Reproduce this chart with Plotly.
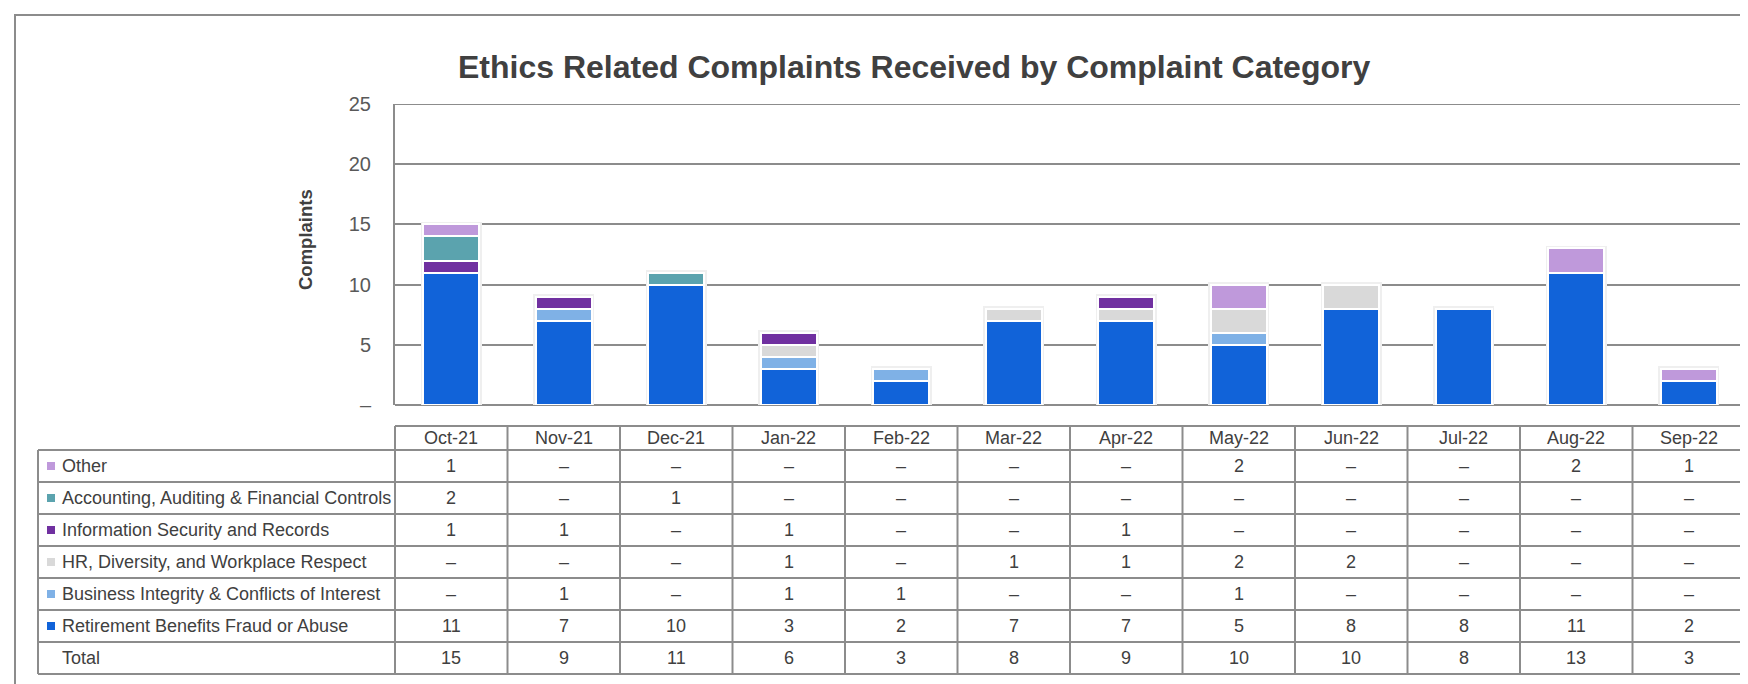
import plotly.graph_objects as go

months = ["Oct-21", "Nov-21", "Dec-21", "Jan-22", "Feb-22", "Mar-22",
          "Apr-22", "May-22", "Jun-22", "Jul-22", "Aug-22", "Sep-22"]

retirement = [11, 7, 10, 3, 2, 7, 7, 5, 8, 8, 11, 2]
business = [0, 1, 0, 1, 1, 0, 0, 1, 0, 0, 0, 0]
hr = [0, 0, 0, 1, 0, 1, 1, 2, 2, 0, 0, 0]
infosec = [1, 1, 0, 1, 0, 0, 1, 0, 0, 0, 0, 0]
accounting = [2, 0, 1, 0, 0, 0, 0, 0, 0, 0, 0, 0]
other = [1, 0, 0, 0, 0, 0, 0, 2, 0, 0, 2, 1]
totals = [15, 9, 11, 6, 3, 8, 9, 10, 10, 8, 13, 3]

series_names = ["Retirement Benefits Fraud or Abuse",
                "Business Integrity & Conflicts of Interest",
                "HR, Diversity, and Workplace Respect",
                "Information Security and Records",
                "Accounting, Auditing & Financial Controls",
                "Other"]
series_values = [retirement, business, hr, infosec, accounting, other]
series_colors = ["#1163D9", "#7FB1E6", "#D9D9D9", "#7030A0", "#5BA3AE", "#BF99DB"]

y_ticks = [0, 5, 10, 15, 20, 25]
y_ticktext = ["–", "5", "10", "15", "20", "25"]

W, H = 1748, 684
L, R, T, B = 387, 1737, 96, 397
COLW = (R - L) / len(months)

def px(x):
    return (x - L) / (R - L)

def py(y):
    return (B - y) / (B - T)

NARROW = "Liberation Sans Narrow, Arial Narrow, Liberation Sans, Arial, sans-serif"
TXT = "#404040"
GRID = "#8C8C8C"
TFONT = 18

fig = go.Figure()
# soft shadow behind the stacked bars
fig.add_trace(go.Bar(
    x=months, y=totals, width=0.5, showlegend=False, hoverinfo="skip",
    marker=dict(color="#EFEFEF", line=dict(color="#EFEFEF", width=5)),
    xaxis="x", yaxis="y",
))
for name, vals, col in zip(series_names, series_values, series_colors):
    fig.add_trace(go.Bar(
        x=months, y=[v if v else None for v in vals], name=name,
        marker=dict(color=col, line=dict(color="white", width=2)),
        width=0.5, showlegend=False, xaxis="x2", yaxis="y2",
    ))

shapes = []
ann = []

# outer frame
shapes.append(dict(type="rect", xref="paper", yref="paper",
                   x0=px(7), x1=px(1780), y0=py(7), y1=py(720),
                   line=dict(color="#8C8C8C", width=2), fillcolor="rgba(0,0,0,0)", layer="below"))
# top gridline at 25
shapes.append(dict(type="line", xref="paper", yref="y", x0=0, x1=1, y0=25, y1=25,
                   line=dict(color=GRID, width=2), layer="below"))

# table grid
TBL_LEFT = 30
HDR_TOP = 418
ROW0 = 442
ROWH = 32
nrows = 7
bottom = ROW0 + ROWH * nrows
line_style = dict(color=GRID, width=2)
shapes.append(dict(type="line", xref="paper", yref="paper", x0=px(L), x1=px(R),
                   y0=py(HDR_TOP), y1=py(HDR_TOP), line=line_style))
for i in range(nrows + 1):
    yy = ROW0 + ROWH * i
    shapes.append(dict(type="line", xref="paper", yref="paper", x0=px(TBL_LEFT), x1=px(R),
                       y0=py(yy), y1=py(yy), line=line_style))
shapes.append(dict(type="line", xref="paper", yref="paper", x0=px(TBL_LEFT), x1=px(TBL_LEFT),
                   y0=py(ROW0), y1=py(bottom), line=line_style))
for k in range(len(months) + 1):
    xx = L + COLW * k
    shapes.append(dict(type="line", xref="paper", yref="paper", x0=px(xx), x1=px(xx),
                       y0=py(HDR_TOP), y1=py(bottom), line=line_style))

# month headers
for k, m in enumerate(months):
    ann.append(dict(x=px(L + COLW * (k + 0.5)), y=py((HDR_TOP + ROW0) / 2), xref="paper", yref="paper",
                    text=m, showarrow=False, xanchor="center", yanchor="middle",
                    font=dict(family=NARROW, size=TFONT, color=TXT)))

# rows (top to bottom: reversed series, then total)
rows = list(zip(series_names[::-1], series_values[::-1], series_colors[::-1]))
rows.append(("Total", totals, None))
for i, (name, vals, col) in enumerate(rows):
    cy = ROW0 + ROWH * i + ROWH / 2
    if col:
        shapes.append(dict(type="rect", xref="paper", yref="paper",
                           x0=px(39), x1=px(47), y0=py(cy - 4), y1=py(cy + 4),
                           fillcolor=col, line=dict(width=0)))
    ann.append(dict(x=px(52), y=py(cy), xref="paper", yref="paper", text=name,
                    showarrow=False, xanchor="left", yanchor="middle",
                    font=dict(family=NARROW, size=TFONT, color=TXT)))
    for k, v in enumerate(vals):
        ann.append(dict(x=px(L + COLW * (k + 0.5)), y=py(cy), xref="paper", yref="paper",
                        text=str(v) if v else "–", showarrow=False, xanchor="center", yanchor="middle",
                        font=dict(family=NARROW, size=TFONT, color=TXT)))

# title
ann.append(dict(x=px(906), y=py(59), xref="paper", yref="paper",
                text="<b>Ethics Related Complaints Received by Complaint Category</b>",
                showarrow=False, xanchor="center", yanchor="middle",
                font=dict(family=NARROW, size=32, color=TXT)))
# y axis title
ann.append(dict(x=px(297), y=py(232), xref="paper", yref="paper",
                text="<b>Complaints</b>", textangle=-90,
                showarrow=False, xanchor="center", yanchor="middle",
                font=dict(family="Liberation Sans, Arial, sans-serif", size=18.5, color=TXT)))

xr = [-0.5, len(months) - 0.5]
fig.update_layout(
    width=W, height=H,
    margin=dict(l=L, r=W - R, t=T, b=H - B, pad=0),
    barmode="stack",
    plot_bgcolor="white", paper_bgcolor="white",
    shapes=shapes, annotations=ann,
    xaxis=dict(range=xr, showticklabels=False, showgrid=False,
               zeroline=False, showline=False, fixedrange=True),
    yaxis=dict(range=[0, 25], tickvals=y_ticks, ticktext=y_ticktext, showgrid=True,
               gridcolor=GRID, gridwidth=2, zeroline=True, zerolinecolor=GRID, zerolinewidth=2,
               showline=True, linecolor=GRID, linewidth=2, ticks="", ticklabelstandoff=18,
               tickfont=dict(family=NARROW, size=20, color="#595959"), fixedrange=True),
    xaxis2=dict(range=xr, overlaying="x", visible=False, fixedrange=True),
    yaxis2=dict(range=[0, 25], overlaying="y", visible=False, fixedrange=True),
)

fig.write_html("out.html")
